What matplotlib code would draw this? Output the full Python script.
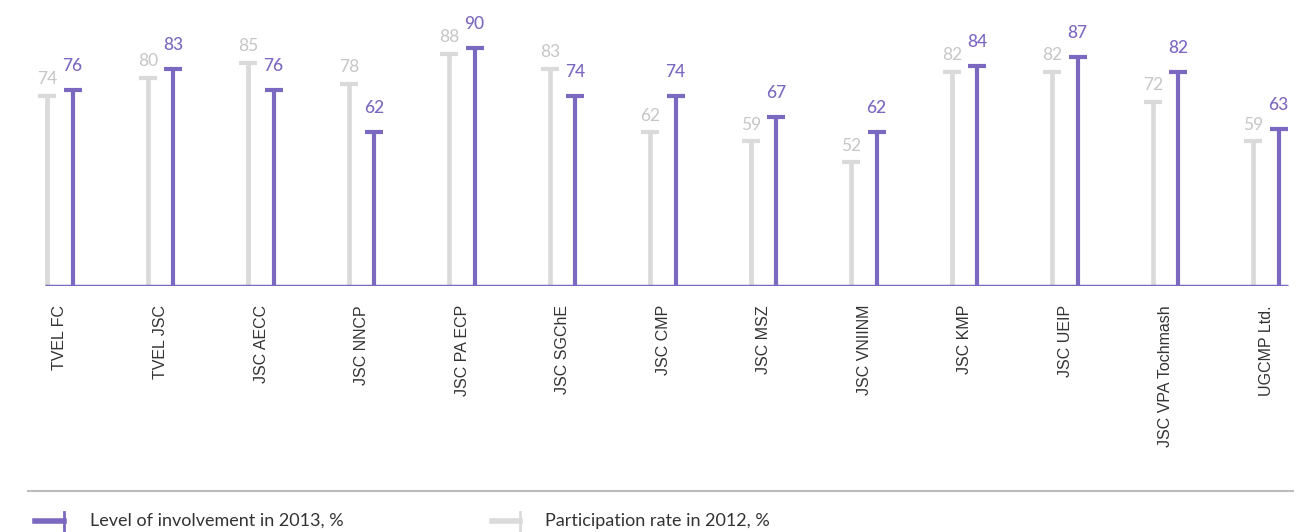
import numpy as np
import matplotlib.pyplot as plt
from matplotlib.lines import Line2D

companies = ["TVEL FC", "TVEL JSC", "JSC AECC", "JSC NNCP", "JSC PA ECP", "JSC SGChE",
             "JSC CMP", "JSC MSZ", "JSC VNIINM", "JSC KMP", "JSC UEIP",
             "JSC VPA Tochmash", "UGCMP Ltd."]
rate_2012 = [74, 80, 85, 78, 88, 83, 62, 59, 52, 82, 82, 72, 59]
level_2013 = [76, 83, 76, 62, 90, 74, 74, 67, 62, 84, 87, 82, 63]

purple = "#7b68c0"
gray = "#dadada"
gray_txt = "#c6c6c6"

fig = plt.figure(figsize=(13, 5.32), dpi=100)
ax = fig.add_axes([0, 246 / 532, 1, 286 / 532])
ax.set_xlim(-0.597, 12.338)
y0, y1 = 10.84, 105.92
ax.set_ylim(y0, y1)
ax.axis("off")

x = np.arange(len(companies))
xg = x - 0.125
xp = x + 0.125

ax.vlines(xg, y0, rate_2012, color=gray, lw=3.4)
ax.plot(xg, rate_2012, ls="none", marker="_", ms=13, mew=3, color=gray)
ax.vlines(xp, y0, level_2013, color=purple, lw=3)
ax.plot(xp, level_2013, ls="none", marker="_", ms=13, mew=3, color=purple)
ax.hlines(y0, -0.15, 12.22, color=purple, lw=2.5)

for xi, v in zip(xg, rate_2012):
    ax.text(xi, v + 5.5, str(v), ha="center", va="center", color=gray_txt,
            fontsize=12.5, family="Lato")
for xi, v in zip(xp, level_2013):
    ax.text(xi, v + 8, str(v), ha="center", va="center", color=purple,
            fontsize=12.5, family="Lato", weight="medium")
for xi, name in zip(x, companies):
    ax.text(xi, y0 - 6.3, name, rotation=90, ha="center", va="top", color="#333333",
            fontsize=11.5, family="Liberation Sans")

# separator and legend
fig.add_artist(Line2D([28 / 1300, 1293 / 1300], [1 - 491 / 532] * 2, color="#bdbdbd", lw=1.5))
yl = 1 - 521 / 532
fig.add_artist(Line2D([35 / 1300, 64 / 1300], [yl, yl], color=purple, lw=4))
fig.add_artist(Line2D([64 / 1300] * 2, [1 - 512 / 532, 1 - 531 / 532], color=purple, lw=2))
fig.text(90 / 1300, yl, "Level of involvement in 2013, %", va="center", fontsize=13,
         family="Lato", color="#333333")
fig.add_artist(Line2D([492 / 1300, 520 / 1300], [yl, yl], color=gray, lw=4))
fig.add_artist(Line2D([520 / 1300] * 2, [1 - 512 / 532, 1 - 531 / 532], color=gray, lw=2))
fig.text(545 / 1300, yl, "Participation rate in 2012, %", va="center", fontsize=13,
         family="Lato", color="#333333")

fig.savefig("out.png", dpi=100)
